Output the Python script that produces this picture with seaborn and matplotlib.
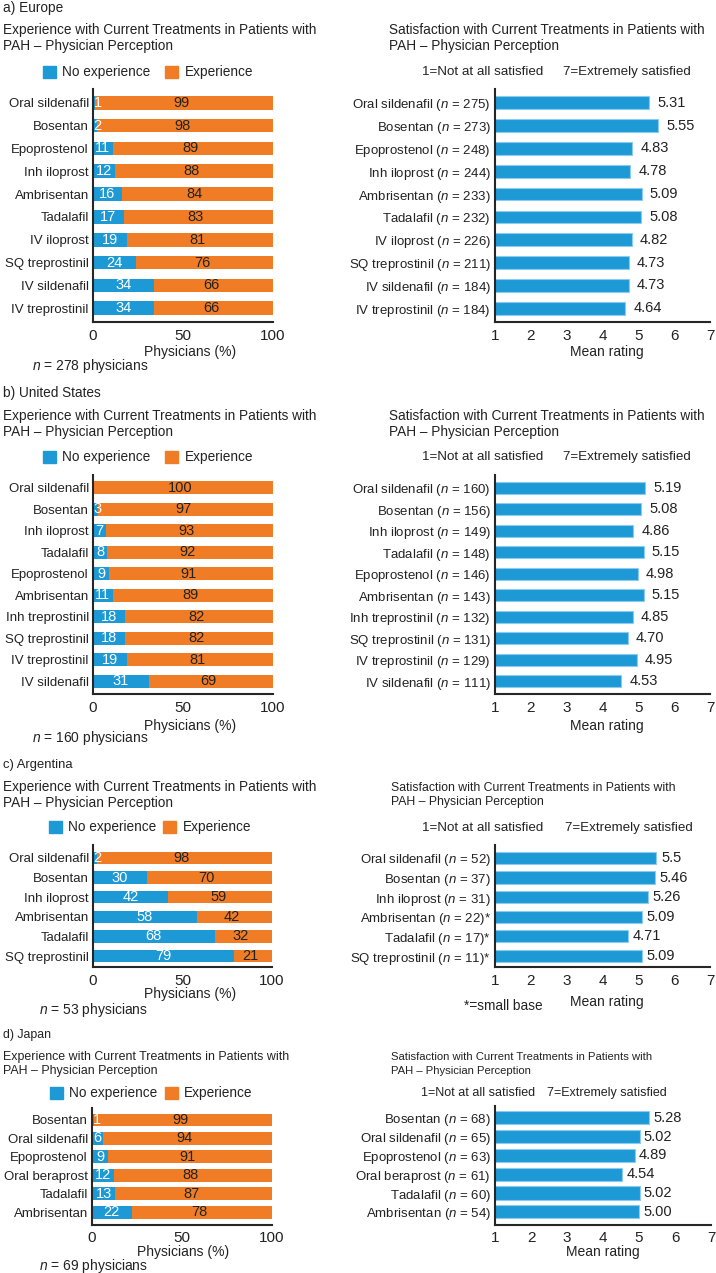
import numpy as np
import matplotlib
matplotlib.use('Agg')
import matplotlib.pyplot as plt
import seaborn as sns

# ---- data ----
# a) Europe
eu_drugs = ['Oral sildenafil', 'Bosentan', 'Epoprostenol', 'Inh iloprost', 'Ambrisentan',
            'Tadalafil', 'IV iloprost', 'SQ treprostinil', 'IV sildenafil', 'IV treprostinil']
eu_no_exp = [1, 2, 11, 12, 16, 17, 19, 24, 34, 34]
eu_exp = [99, 98, 89, 88, 84, 83, 81, 76, 66, 66]
eu_sat_n = [275, 273, 248, 244, 233, 232, 226, 211, 184, 184]
eu_sat = [5.31, 5.55, 4.83, 4.78, 5.09, 5.08, 4.82, 4.73, 4.73, 4.64]

# b) United States
us_drugs = ['Oral sildenafil', 'Bosentan', 'Inh iloprost', 'Tadalafil', 'Epoprostenol',
            'Ambrisentan', 'Inh treprostinil', 'SQ treprostinil', 'IV treprostinil', 'IV sildenafil']
us_no_exp = [0, 3, 7, 8, 9, 11, 18, 18, 19, 31]
us_exp = [100, 97, 93, 92, 91, 89, 82, 82, 81, 69]
us_sat_n = [160, 156, 149, 148, 146, 143, 132, 131, 129, 111]
us_sat = [5.19, 5.08, 4.86, 5.15, 4.98, 5.15, 4.85, 4.70, 4.95, 4.53]

# c) Argentina
ar_drugs = ['Oral sildenafil', 'Bosentan', 'Inh iloprost', 'Ambrisentan', 'Tadalafil', 'SQ treprostinil']
ar_no_exp = [2, 30, 42, 58, 68, 79]
ar_exp = [98, 70, 59, 42, 32, 21]
ar_sat_n = [52, 37, 31, 22, 17, 11]
ar_small_base = [False, False, False, True, True, True]
ar_sat = [5.5, 5.46, 5.26, 5.09, 4.71, 5.09]

# d) Japan
jp_drugs = ['Bosentan', 'Oral sildenafil', 'Epoprostenol', 'Oral beraprost', 'Tadalafil', 'Ambrisentan']
jp_no_exp = [1, 6, 9, 12, 13, 22]
jp_exp = [99, 94, 91, 88, 87, 78]
jp_sat_n = [68, 65, 63, 61, 60, 54]
jp_sat = [5.28, 5.02, 4.89, 4.54, 5.02, 5.00]

BLUE = '#1d9ad6'
ORANGE = '#f07d26'
EDGE = '#8ccbee'
TITLE_EXP = 'Experience with Current Treatments in Patients with\nPAH \u2013 Physician Perception'
TITLE_SAT = 'Satisfaction with Current Treatments in Patients with\nPAH \u2013 Physician Perception'

sns.set_style('white')
plt.rcParams['font.family'] = ['Liberation Sans', 'DejaVu Sans']
plt.rcParams['mathtext.fontset'] = 'custom'
plt.rcParams['mathtext.rm'] = 'Liberation Sans'
plt.rcParams['mathtext.it'] = 'Liberation Sans:italic'
plt.rcParams['axes.linewidth'] = 1.5

W, H = 716, 1273
fig = plt.figure(figsize=(W / 100, H / 100), dpi=100)
fig.patch.set_facecolor('white')


def add_ax(x0, y0, x1, y1):
    return fig.add_axes([x0 / W, 1 - y1 / H, (x1 - x0) / W, (y1 - y0) / H])


def ftext(x, y, s, **kw):
    kw.setdefault('va', 'center')
    kw.setdefault('ha', 'left')
    kw.setdefault('color', '#222222')
    fig.text(x / W, 1 - y / H, s, **kw)


def style_axis(ax, n, ylim, fs, xfs, tlen):
    sns.despine(ax=ax)
    ax.set_ylim(ylim[1], ylim[0])
    ax.set_ylabel('')
    ax.tick_params(axis='y', which='major', length=0, pad=3, labelsize=fs, labelcolor='#222222')
    ax.set_yticks(np.arange(-0.5, n), minor=True)
    ax.tick_params(axis='y', which='minor', length=3, width=1.2, direction='out')
    ax.tick_params(axis='x', length=tlen, width=1.2, direction='out', pad=1,
                   labelsize=xfs, labelcolor='#222222')


def exp_panel(box, drugs, no_exp, exp, ylim, bw, fs=9.5, xfs=11, tlen=4):
    ax = add_ax(*box)
    total = [a + b for a, b in zip(no_exp, exp)]
    sns.barplot(x=total, y=drugs, color=ORANGE, saturation=1, orient='h',
                width=bw, ax=ax, linewidth=0)
    sns.barplot(x=no_exp, y=drugs, color=BLUE, saturation=1, orient='h',
                width=bw, ax=ax, linewidth=0)
    ax.set_xlim(0, 100)
    ax.set_xticks([0, 50, 100])
    style_axis(ax, len(drugs), ylim, fs, xfs, tlen)
    for i, (a, b) in enumerate(zip(no_exp, exp)):
        if a > 0:
            ax.text(max(a / 2, 2.5), i, str(a), color='white', ha='center', va='center', fontsize=fs + 1)
        ax.text(a + b / 2 - 1.5, i, str(b), color='#222222', ha='center', va='center', fontsize=fs + 1)
    return ax


def sat_panel(box, drugs, ns, vals, ylim, bw, fmt, off, marks=None, fs=9.5, xfs=11, tlen=4):
    ax = add_ax(*box)
    labels = []
    for k, (d, n) in enumerate(zip(drugs, ns)):
        star = '*' if (marks is not None and marks[k]) else ''
        labels.append(d + ' ($n$ = %d)' % n + star)
    sns.barplot(x=vals, y=labels, color=BLUE, saturation=1, orient='h',
                width=bw, ax=ax, edgecolor=EDGE, linewidth=0.8)
    ax.set_xlim(1, 7)
    ax.set_xticks(range(1, 8))
    style_axis(ax, len(drugs), ylim, fs, xfs, tlen)
    for i, v in enumerate(vals):
        ax.annotate(fmt(v), (v, i), xytext=(off, 0), textcoords='offset pixels',
                    ha='left', va='center', fontsize=fs + 1, color='#222222')
    return ax


def legend_row(x_blue, x_no, x_orange, x_exp, y, fs):
    for xs, col in ((x_blue, BLUE), (x_orange, ORANGE)):
        fig.patches.append(plt.Rectangle((xs / W, 1 - (y + 6) / H), 13 / W, 12 / H,
                                         transform=fig.transFigure, color=col))
    ftext(x_no, y, 'No experience', fontsize=fs)
    ftext(x_exp, y, 'Experience', fontsize=fs)


two2 = lambda v: '%.2f' % v

# ---- a) Europe ----
ftext(3, 8, 'a) Europe', fontsize=9.8)
ftext(3, 38, TITLE_EXP, fontsize=9.8, linespacing=1.2)
ftext(389, 38, TITLE_SAT, fontsize=9.8, linespacing=1.2)
legend_row(43, 62, 165, 185, 72, 9.8)
ftext(422, 72, '1=Not at all satisfied', fontsize=9.6)
ftext(563, 72, '7=Extremely satisfied', fontsize=9.6)
exp_panel((93, 89, 273, 322), eu_drugs, eu_no_exp, eu_exp, (-0.6, 9.6), 0.6)
sat_panel((495, 89, 710, 322), eu_drugs, eu_sat_n, eu_sat, (-0.6, 9.6), 0.56, two2, 8)
ftext(190, 352, 'Physicians (%)', fontsize=10, ha='center')
ftext(607, 352, 'Mean rating', fontsize=10, ha='center')
ftext(32, 366, '$n$ = 278 physicians', fontsize=10)

# ---- b) United States ----
ftext(3, 393, 'b) United States', fontsize=9.8)
ftext(3, 424, TITLE_EXP, fontsize=9.8, linespacing=1.2)
ftext(389, 424, TITLE_SAT, fontsize=9.8, linespacing=1.2)
legend_row(43, 62, 165, 185, 457, 9.8)
ftext(422, 457, '1=Not at all satisfied', fontsize=9.6)
ftext(563, 457, '7=Extremely satisfied', fontsize=9.6)
exp_panel((93, 475, 273, 694), us_drugs, us_no_exp, us_exp, (-0.6, 9.6), 0.6)
sat_panel((495, 475, 710, 694), us_drugs, us_sat_n, us_sat, (-0.6, 9.6), 0.56, two2, 8)
ftext(190, 726, 'Physicians (%)', fontsize=10, ha='center')
ftext(607, 726, 'Mean rating', fontsize=10, ha='center')
ftext(32, 738, '$n$ = 160 physicians', fontsize=10)

# ---- c) Argentina ----
ftext(3, 765, 'c) Argentina', fontsize=9.4)
ftext(3, 795, TITLE_EXP, fontsize=9.8, linespacing=1.2)
ftext(391, 795, TITLE_SAT, fontsize=8.8, linespacing=1.3)
legend_row(49, 68, 163, 183, 827, 9.8)
ftext(422, 828, '1=Not at all satisfied', fontsize=9.6)
ftext(565, 828, '7=Extremely satisfied', fontsize=9.6)
exp_panel((93, 845, 272, 967), ar_drugs, ar_no_exp, ar_exp, (-0.66, 5.56), 0.63)
sat_panel((495, 845, 710, 967), ar_drugs, ar_sat_n, ar_sat, (-0.66, 5.56), 0.62,
          lambda v: '%g' % v, 5, marks=ar_small_base)
ftext(190, 994, 'Physicians (%)', fontsize=10, ha='center')
ftext(607, 1002, 'Mean rating', fontsize=10, ha='center')
ftext(464, 1006, '*=small base', fontsize=9.8)
ftext(39, 1010, '$n$ = 53 physicians', fontsize=10)

# ---- d) Japan ----
ftext(3, 1035, 'd) Japan', fontsize=8.8)
ftext(3, 1064, TITLE_EXP, fontsize=8.9, linespacing=1.3)
ftext(391, 1064, TITLE_SAT, fontsize=8.1, linespacing=1.4)
legend_row(50, 69, 165, 184, 1093, 9.8)
ftext(421, 1093, '1=Not at all satisfied', fontsize=9)
ftext(547, 1093, '7=Extremely satisfied', fontsize=9)
exp_panel((92, 1108, 272, 1225), jp_drugs, jp_no_exp, jp_exp, (-0.65, 5.7), 0.7, tlen=3)
sat_panel((495, 1106, 711, 1225), jp_drugs, jp_sat_n, jp_sat, (-0.63, 5.7), 0.7, two2, 4, tlen=3)
ftext(183, 1252, 'Physicians (%)', fontsize=10, ha='center')
ftext(603, 1252, 'Mean rating', fontsize=10, ha='center')
ftext(39, 1266, '$n$ = 69 physicians', fontsize=10)

fig.savefig('out.png', dpi=100, facecolor='white')
